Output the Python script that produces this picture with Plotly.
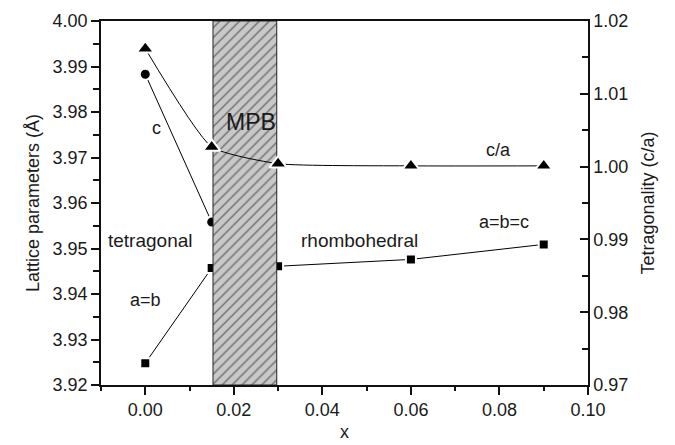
import plotly.graph_objects as go

# ---- data ----
x_c = [0.0, 0.015]
c_vals = [3.9883, 3.9558]

x_a = [0.0, 0.015, 0.030, 0.060, 0.090]
a_vals = [3.9248, 3.9457, 3.9461, 3.9476, 3.9509]

x_ca = [0.0, 0.015, 0.030, 0.060, 0.090]
ca_vals = [1.0162, 1.0027, 1.0004, 1.0001, 1.0001]

mpb_x = [0.0153, 0.0297]
y_range = [3.92, 4.00]
y2_range = [0.97, 1.02]
x_range = [-0.01, 0.10]

FONT = "Liberation Sans, Arial, sans-serif"
TXT = "#1a1a1a"

fig = go.Figure()

fig.add_trace(go.Scatter(
    x=x_c, y=c_vals, mode="lines+markers",
    line=dict(color="black", width=1),
    marker=dict(symbol="circle", size=11, color="black", line=dict(color="white", width=2)),
    showlegend=False))

fig.add_trace(go.Scatter(
    x=x_a, y=a_vals, mode="lines+markers",
    line=dict(color="black", width=1),
    marker=dict(symbol="square", size=10, color="black", line=dict(color="white", width=2)),
    showlegend=False))

fig.add_trace(go.Scatter(
    x=x_ca, y=ca_vals, mode="lines+markers", yaxis="y2",
    line=dict(color="black", width=1, shape="spline", smoothing=0.5),
    marker=dict(symbol="triangle-up", size=15, color="black", line=dict(color="white", width=2)),
    showlegend=False))

# MPB hatched region (drawn above markers)
fig.add_trace(go.Scatter(
    x=[mpb_x[0], mpb_x[1], mpb_x[1], mpb_x[0], mpb_x[0]],
    y=[y_range[0], y_range[0], y_range[1], y_range[1], y_range[0]],
    mode="lines", fill="toself",
    fillcolor="#c8c8c8",
    fillpattern=dict(shape="/", bgcolor="#c8c8c8", fgcolor="#111111", size=7, solidity=0.2),
    line=dict(color="#222222", width=1),
    hoverinfo="skip", showlegend=False))

annots = [
    dict(x=0.0025, y=3.9764, text="c", size=18),
    dict(x=0.0239, y=3.9777, text="MPB", size=23),
    dict(x=0.0012, y=3.9518, text="tetragonal", size=19),
    dict(x=0.0000, y=3.9386, text="a=b", size=18),
    dict(x=0.0483, y=3.9518, text="rhombohedral", size=19),
    dict(x=0.0797, y=3.9716, text="c/a", size=18),
    dict(x=0.0810, y=3.9558, text="a=b=c", size=18),
]
for a in annots:
    fig.add_annotation(x=a["x"], y=a["y"], xref="x", yref="y", text=a["text"],
                       showarrow=False, font=dict(family=FONT, size=a["size"], color=TXT),
                       xanchor="center", yanchor="middle")

axis_common = dict(
    showgrid=False, zeroline=False, showline=True, linecolor="#111111", linewidth=1.5,
    tickfont=dict(family=FONT, size=18, color=TXT),
    tickcolor="#111111", tickwidth=1.5, automargin=False,
)

fig.update_layout(
    width=675, height=445,
    margin=dict(l=101, r=87, t=21, b=60),
    paper_bgcolor="white", plot_bgcolor="white",
    font=dict(family=FONT, color=TXT),
    xaxis=dict(
        range=x_range, dtick=0.02, tick0=0.0, tickformat=".2f",
        ticks="outside", ticklen=8, mirror=True,
        minor=dict(dtick=0.01, tick0=0.0, ticks="outside", ticklen=4, tickcolor="#111111", tickwidth=1.5),
        title=dict(text="x", font=dict(family=FONT, size=18, color=TXT), standoff=6),
        **axis_common),
    yaxis=dict(
        range=y_range, dtick=0.01, tick0=3.92, tickformat=".2f",
        ticks="outside", ticklen=8,
        minor=dict(dtick=0.005, ticks="outside", ticklen=6, tickcolor="#111111", tickwidth=1.5),
        title=dict(text="Lattice parameters (Å)", font=dict(family=FONT, size=18, color=TXT), standoff=8),
        **axis_common),
    yaxis2=dict(
        range=y2_range, dtick=0.01, tick0=0.97, tickformat=".2f",
        overlaying="y", side="right",
        ticks="inside", ticklen=8,
        minor=dict(dtick=0.005, ticks="inside", ticklen=6, tickcolor="#111111", tickwidth=1.5),
        title=dict(text="Tetragonality (c/a)", font=dict(family=FONT, size=18, color=TXT), standoff=14),
        **axis_common),
)

fig.write_html("out.html")
